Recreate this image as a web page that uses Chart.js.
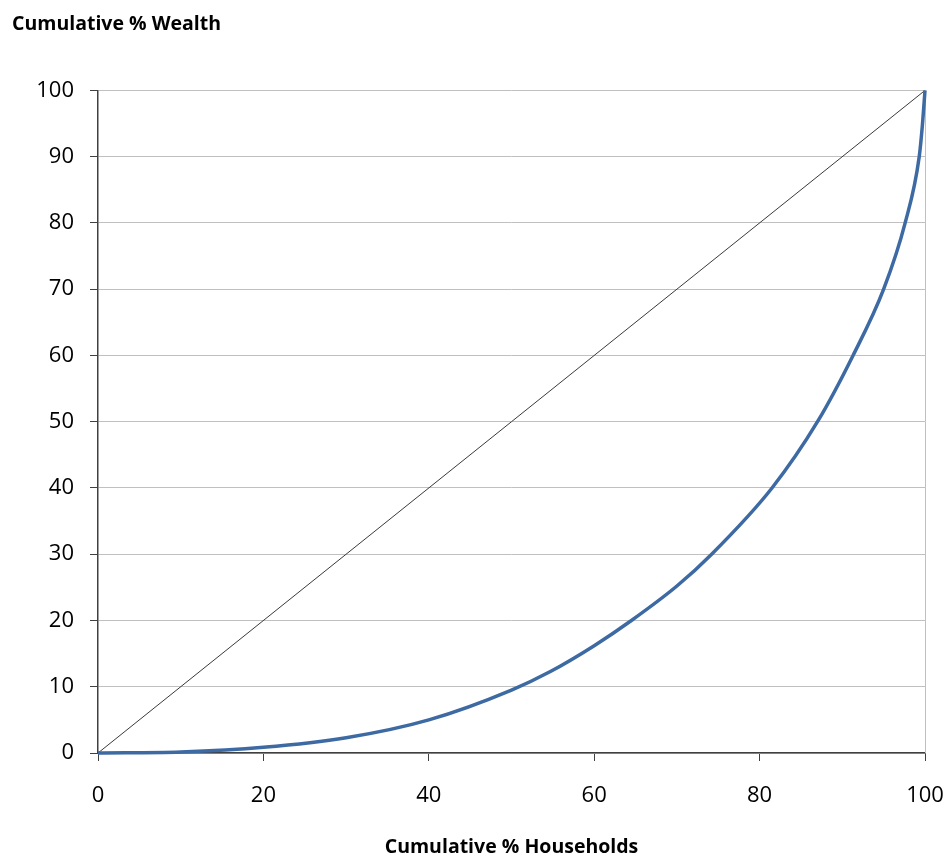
<!DOCTYPE html>
<html lang="en">
<head>
  <meta charset="UTF-8">
  <title>Lorenz curve - Cumulative % Wealth</title>
  <script src="https://cdn.jsdelivr.net/npm/chart.js"></script>
  <style>
    body { margin: 0; background: #fff; }
    #box { width: 948px; height: 857px; }
  </style>
</head>
<body>
  <div id="box"><canvas id="grafico" width="948" height="857"></canvas></div>

  <script>
    // Lorenz curve
    const householdsPct = [0, 10, 20, 30, 40, 50, 54.7, 60, 64.5, 70, 74.2, 81.5, 87.0, 91.3, 95.0, 97.6, 99.3, 99.7, 100];
    const wealthPct     = [0, 0.15, 0.85, 2.3, 5.0, 9.5, 12.3, 16.2, 20, 25.2, 30, 40, 50, 60, 70, 80, 90, 95, 100];

    // line of perfect equality
    const equalityX = [0, 100];
    const equalityY = [0, 100];

    const yTicks = [0, 10, 20, 30, 40, 50, 60, 70, 80, 90, 100];
    const xTicks = [0, 20, 40, 60, 80, 100];

    const toPoints = (xs, ys) => xs.map((x, i) => ({ x: x, y: ys[i] }));

    const tickFont = { family: 'Open Sans', size: 22 };
    const titleFont = { family: 'Open Sans', size: 19.5, weight: 'bold' };

    // thin grey border on the right side of the plot
    const bordeDerecho = {
      id: 'bordeDerecho',
      beforeDatasetsDraw(chart) {
        const a = chart.chartArea, c = chart.ctx;
        c.save();
        c.strokeStyle = '#c0c0c0';
        c.lineWidth = 1;
        c.beginPath();
        c.moveTo(Math.round(a.right) + 0.5, a.top);
        c.lineTo(Math.round(a.right) + 0.5, a.bottom);
        c.stroke();
        c.restore();
      }
    };

    const ctx = document.getElementById('grafico').getContext('2d');
    new Chart(ctx, {
      type: 'scatter',
      data: {
        datasets: [
          {
            label: 'Lorenz',
            data: toPoints(householdsPct, wealthPct),
            showLine: true,
            borderColor: '#3d6aa3',
            borderWidth: 3.5,
            pointRadius: 0,
            cubicInterpolationMode: 'monotone',
            clip: false,
            order: 0
          },
          {
            label: 'Equality',
            data: toPoints(equalityX, equalityY),
            showLine: true,
            borderColor: '#3a3a3a',
            borderWidth: 1,
            pointRadius: 0,
            order: 1
          }
        ]
      },
      options: {
        responsive: false,
        animation: false,
        layout: { padding: { left: 12, right: 23, top: 0, bottom: 0 } },
        plugins: {
          legend: { display: false },
          tooltip: { enabled: false },
          title: {
            display: true,
            text: 'Cumulative % Wealth',
            align: 'start',
            color: '#000',
            font: titleFont,
            padding: { top: 13, bottom: 54 }
          }
        },
        scales: {
          x: {
            type: 'linear',
            min: 0,
            max: 100,
            afterBuildTicks: s => { s.ticks = xTicks.map(v => ({ value: v })); },
            afterFit: s => { s.height = 104; s.paddingLeft = 0; s.paddingRight = 0; },
            ticks: { font: tickFont, color: '#000', padding: 22, maxRotation: 0 },
            grid: {
              color: c => c.tick && c.tick.value === 100 ? '#c0c0c0' : 'rgba(0,0,0,0)',
              tickColor: '#404040',
              tickLength: 8,
              drawOnChartArea: false
            },
            border: { color: '#404040', width: 1.5 },
            title: {
              display: true,
              text: 'Cumulative % Households',
              color: '#000',
              font: titleFont,
              padding: { top: 0, bottom: -2 }
            }
          },
          y: {
            type: 'linear',
            min: 0,
            max: 100,
            afterBuildTicks: s => { s.ticks = yTicks.map(v => ({ value: v })); },
            afterFit: s => { s.width = 86; },
            ticks: { font: tickFont, color: '#000', padding: 16 },
            grid: {
              color: '#c0c0c0',
              tickColor: '#404040',
              tickLength: 8
            },
            border: { color: '#404040', width: 1.5 }
          }
        }
      },
      plugins: [bordeDerecho]
    });
  </script>
</body>
</html>
